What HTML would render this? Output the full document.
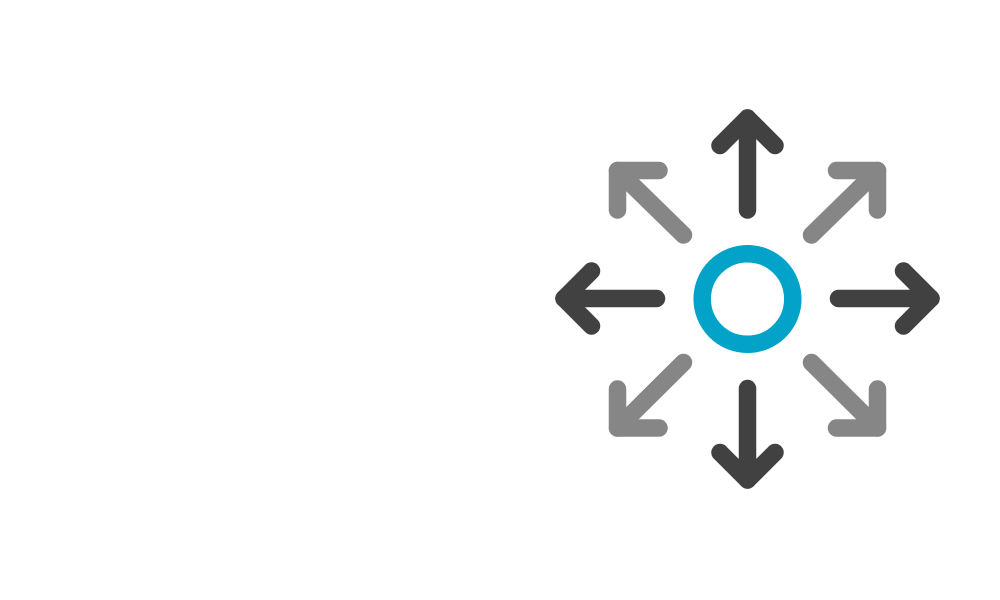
<!DOCTYPE html>
<html>
<head>
<meta charset="utf-8">
<style>
  html, body { margin: 0; padding: 0; background: #ffffff; }
  body { width: 1000px; height: 600px; overflow: hidden; }
  svg { display: block; }
</style>
</head>
<body>
<svg width="1000" height="600" viewBox="0 0 1000 600" xmlns="http://www.w3.org/2000/svg">
  <rect width="1000" height="600" fill="#ffffff"/>
  <g fill="none" stroke-width="17.5" stroke-linecap="round" stroke-linejoin="round">
    <!-- dark arrows -->
    <g stroke="#414141">
      <!-- up -->
      <path d="M747.5 210 L747.5 118"/>
      <path d="M720 145.5 L747.5 118 L775 145.5"/>
      <!-- down -->
      <path d="M747.5 388.5 L747.5 480"/>
      <path d="M720 452.5 L747.5 480 L775 452.5"/>
      <!-- left -->
      <path d="M656.5 298.5 L564 298.5"/>
      <path d="M591.5 271 L564 298.5 L591.5 326"/>
      <!-- right -->
      <path d="M838.5 298.5 L931 298.5"/>
      <path d="M903.5 271 L931 298.5 L903.5 326"/>
    </g>
    <!-- gray diagonal arrows -->
    <g stroke="#858685">
      <!-- up-left -->
      <path d="M683.5 235 L617.5 170.5"/>
      <path d="M659 170.5 L617.5 170.5 L617.5 210"/>
      <!-- up-right -->
      <path d="M811.5 235 L877.5 170.5"/>
      <path d="M836.5 170.5 L877.5 170.5 L877.5 210"/>
      <!-- down-left -->
      <path d="M683.5 362.5 L617.5 428"/>
      <path d="M659 428 L617.5 428 L617.5 389"/>
      <!-- down-right -->
      <path d="M811.5 362.5 L877.5 428"/>
      <path d="M836.5 428 L877.5 428 L877.5 389"/>
    </g>
  </g>
  <!-- center circle -->
  <circle cx="747.5" cy="299" r="45.3" fill="none" stroke="#03a2c9" stroke-width="17.5"/>
</svg>
</body>
</html>
